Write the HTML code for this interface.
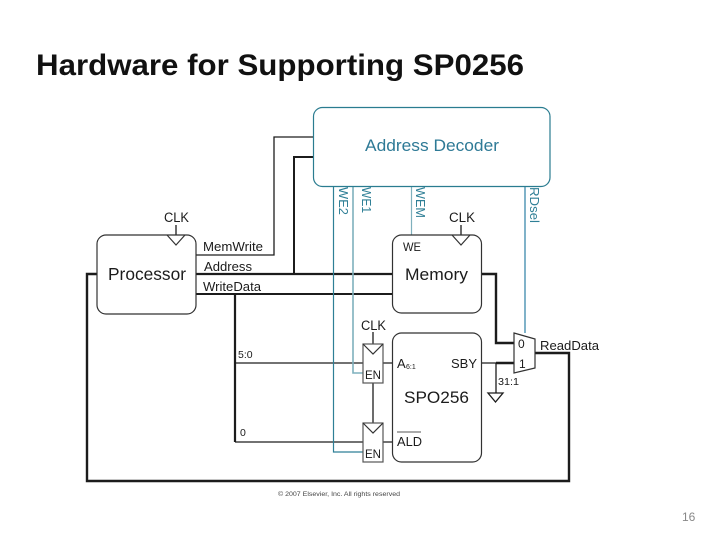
<!DOCTYPE html>
<html><head><meta charset="utf-8"><style>html,body{margin:0;padding:0;background:#fff;width:720px;height:540px;overflow:hidden}svg{display:block}text{font-family:"Liberation Sans",sans-serif}</style></head>
<body><svg width="720" height="540" viewBox="0 0 720 540" xmlns="http://www.w3.org/2000/svg">
<text x="36" y="75" font-size="30" font-weight="bold" fill="#111" textLength="488" lengthAdjust="spacingAndGlyphs">Hardware for Supporting SP0256</text>
<filter id="s" filterUnits="userSpaceOnUse" x="0" y="0" width="720" height="540"><feGaussianBlur stdDeviation="0.3"/></filter>
<g filter="url(#s)">
<g fill="none" stroke="#1a1a1a" stroke-width="1.3">
<path d="M196 255H274V137H313"/>
<path d="M294 274V157H313" stroke-width="2"/>
<path d="M196 274H392" stroke-width="2.2"/>
<path d="M196 294H392" stroke-width="2"/>
<path d="M235 294V442" stroke-width="2.2"/>
<path d="M235 363H363M235 442H363"/>
<path d="M97 274H87V481H569V353H535" stroke-width="2.4"/>
<path d="M481 274H496V343H514" stroke-width="2.4"/>
<path d="M482 363H514"/>
<path d="M496 363H514" stroke-width="2.4"/>
<path d="M496 363V393"/>
<path d="M488 393H503L495.500 402Z"/>
<path d="M176 225V235M461 225V235M373 332V344M373 383V423M383 363H392M383 442H392"/>
</g>
<g fill="none" stroke="#2f7f96" stroke-width="1.2">
<path d="M333.500 186V452H363"/>
<path d="M353 186V373H363" stroke="#7fb0bd" stroke-width="1.6"/>
<path d="M411.500 186V235" stroke="#7fb0bd"/>
<path d="M525 186V333" stroke="#2f80a5"/>
<rect x="313.500" y="107.500" width="236.500" height="79" rx="9" stroke="#2b7c90"/>
</g>
<g fill="#fff" stroke="#333" stroke-width="1.2">
<rect x="97" y="235" width="99" height="79" rx="9"/>
<rect x="392.500" y="235" width="89" height="78" rx="9"/>
<rect x="392.500" y="333" width="89" height="129" rx="9"/>
<path d="M514 333L535 339V368L514 373Z"/>
<rect x="363" y="344" width="20" height="39" stroke="#555"/>
<rect x="363" y="423" width="20" height="39" stroke="#555"/>
<path d="M363 344L373 354L383 344M363 423L373 433L383 423" fill="none"/>
<path d="M167 235L176 245L185 235M452 235L461 245L470 235" fill="none"/>
<path d="M397 432H421" stroke="#777" fill="none"/>
</g>
<g fill="#1a1a1a" font-size="13.500">
<text x="164" y="222" textLength="25" lengthAdjust="spacingAndGlyphs">CLK</text>
<text x="449" y="222" textLength="26" lengthAdjust="spacingAndGlyphs">CLK</text>
<text x="361" y="330" textLength="25" lengthAdjust="spacingAndGlyphs">CLK</text>
<text x="203" y="251" font-size="13" textLength="60" lengthAdjust="spacingAndGlyphs">MemWrite</text>
<text x="204" y="271" font-size="13" textLength="48" lengthAdjust="spacingAndGlyphs">Address</text>
<text x="203" y="291" font-size="13" textLength="58" lengthAdjust="spacingAndGlyphs">WriteData</text>
<text x="108" y="280" font-size="17.500" textLength="78" lengthAdjust="spacingAndGlyphs">Processor</text>
<text x="405" y="280" font-size="17" textLength="63" lengthAdjust="spacingAndGlyphs">Memory</text>
<text x="403" y="251" font-size="11.500" textLength="18" lengthAdjust="spacingAndGlyphs">WE</text>
<text x="404" y="403" font-size="17" textLength="65" lengthAdjust="spacingAndGlyphs">SPO256</text>
<text x="397" y="368" font-size="13">A</text>
<text x="406" y="369" font-size="7">6:1</text>
<text x="451" y="368" font-size="13" textLength="26" lengthAdjust="spacingAndGlyphs">SBY</text>
<text x="397" y="446" font-size="13" textLength="25" lengthAdjust="spacingAndGlyphs">ALD</text>
<text x="365" y="379" font-size="12" textLength="16" lengthAdjust="spacingAndGlyphs">EN</text>
<text x="365" y="458" font-size="12" textLength="16" lengthAdjust="spacingAndGlyphs">EN</text>
<text x="238" y="358" font-size="10.500">5:0</text>
<text x="240" y="436" font-size="10.500">0</text>
<text x="518" y="348" font-size="12">0</text>
<text x="519" y="368" font-size="12">1</text>
<text x="498" y="385" font-size="10.500" textLength="21" lengthAdjust="spacingAndGlyphs">31:1</text>
<text x="540" y="350" font-size="13" textLength="59" lengthAdjust="spacingAndGlyphs">ReadData</text>
<text x="278" y="496" font-size="6.500" fill="#444" textLength="122" lengthAdjust="spacingAndGlyphs">© 2007 Elsevier, Inc. All rights reserved</text>
</g>
<g fill="#2f7f96" font-size="12.500">
<text x="365" y="151" font-size="16.500" fill="#2f7a96" textLength="134" lengthAdjust="spacingAndGlyphs">Address Decoder</text>
<text transform="translate(339,187) rotate(90)" textLength="28" lengthAdjust="spacingAndGlyphs">WE2</text>
<text transform="translate(362,187) rotate(90)" textLength="26" lengthAdjust="spacingAndGlyphs">WE1</text>
<text transform="translate(416,187) rotate(90)" textLength="31" lengthAdjust="spacingAndGlyphs">WEM</text>
<text transform="translate(530,187) rotate(90)" textLength="36" lengthAdjust="spacingAndGlyphs">RDsel</text>
</g>
</g>
<text x="682" y="521" font-size="12" fill="#888">16</text>
</svg></body></html>
